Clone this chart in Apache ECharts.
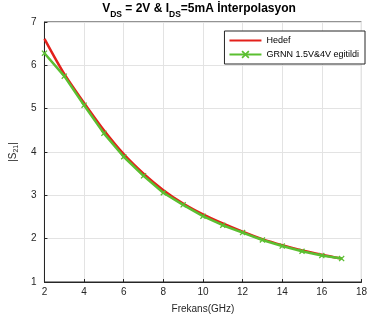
<!DOCTYPE html>
<html><head><meta charset="utf-8">
<script src="https://cdn.jsdelivr.net/npm/echarts@6/dist/echarts.min.js"></script>
<style>html,body{margin:0;padding:0;background:#fff}#c{width:370px;height:320px}</style>
</head><body><div id="c"></div>
<script>
const freqs = [2,3,4,5,6,7,8,9,10,11,12,13,14,15,16,17];
const hedef = [6.61,5.80,5.13,4.50,3.95,3.50,3.12,2.81,2.56,2.35,2.16,1.99,1.85,1.73,1.63,1.54];
const grnn  = [6.28,5.75,5.08,4.43,3.89,3.45,3.06,2.78,2.52,2.31,2.14,1.97,1.83,1.71,1.61,1.54];
const xTicks = [2,4,6,8,10,12,14,16,18];
const yTicks = [1,2,3,4,5,6,7];
const FONT = 'Liberation Sans, Arial, sans-serif';
const cross = 'path://M0,1.5L1.5,0L5,3.5L8.5,0L10,1.5L6.5,5L10,8.5L8.5,10L5,6.5L1.5,10L0,8.5L3.5,5Z';
const chart = echarts.init(document.getElementById('c'), null, {renderer:'canvas'});
chart.setOption({
  animation:false,
  backgroundColor:'#fff',
  textStyle:{fontFamily:FONT},
  title:{
    text:'{a|V}{s|DS}{a| = 2V & I}{s|DS}{a|=5mA İnterpolasyon}',
    left:199, textAlign:'center', top:3, padding:0,
    textStyle:{rich:{
      a:{fontSize:12,fontWeight:'bold',color:'#000',fontFamily:FONT,lineHeight:16,verticalAlign:'top'},
      s:{fontSize:8.5,fontWeight:'bold',color:'#000',fontFamily:FONT,lineHeight:16,verticalAlign:'bottom',padding:[4,0,0,0]}
    }}
  },
  grid:{left:35,right:7,top:22,bottom:38,show:true,borderColor:'#262626',borderWidth:1,backgroundColor:'#fff'},
  legend:{
    orient:'vertical', right:5, top:31,
    backgroundColor:'#fff', borderColor:'#262626', borderWidth:1,
    padding:[5,6,5,4], itemGap:5, itemWidth:32, itemHeight:10,
    textStyle:{fontSize:9,color:'#000',fontFamily:FONT},
    data:[{name:'Hedef', itemStyle:{opacity:0}},'GRNN 1.5V&4V egitildi']
  },
  xAxis:{
    type:'value', min:2, max:18, interval:2,
    name:'Frekans(GHz)', nameLocation:'middle', nameGap:22,
    nameTextStyle:{fontSize:10,color:'#262626',fontFamily:FONT},
    axisLine:{show:true,lineStyle:{color:'#262626'}},
    axisTick:{show:true,inside:true,length:3,lineStyle:{color:'#262626'}},
    axisLabel:{fontSize:10,color:'#262626',margin:5,fontFamily:FONT},
    splitLine:{show:true,lineStyle:{color:'#e3e3e3',width:1}}
  },
  yAxis:{
    type:'value', min:1, max:7, interval:1,
    name:'{a||S}{s|21}{a||}', nameLocation:'middle', nameGap:22, nameRotate:90,
    nameTextStyle:{rich:{
      a:{fontSize:10,color:'#262626',fontFamily:FONT,lineHeight:14},
      s:{fontSize:7,color:'#262626',fontFamily:FONT,lineHeight:14,verticalAlign:'bottom',padding:[4,0,0,0]}
    }},
    axisLine:{show:true,lineStyle:{color:'#262626'}},
    axisTick:{show:true,inside:true,length:3,lineStyle:{color:'#262626'}},
    axisLabel:{fontSize:10,color:'#262626',margin:8,fontFamily:FONT},
    splitLine:{show:true,lineStyle:{color:'#e3e3e3',width:1}}
  },
  series:[
    {name:'Hedef', type:'line', data:freqs.map((f,i)=>[f,hedef[i]]), smooth:0.3,
     showSymbol:false, symbol:'none', lineStyle:{color:'#e3201b',width:2.5}, itemStyle:{color:'#e3201b'}},
    {name:'GRNN 1.5V&4V egitildi', type:'line', data:freqs.map((f,i)=>[f,grnn[i]]),
     symbol:cross, symbolSize:6, showSymbol:true,
     lineStyle:{color:'#5bbf31',width:2.5}, itemStyle:{color:'#5bbf31'}}
  ]
});
</script></body></html>
